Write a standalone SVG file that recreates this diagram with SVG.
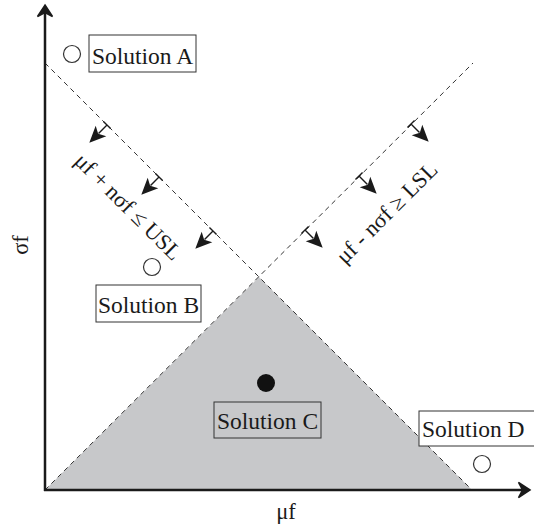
<svg xmlns="http://www.w3.org/2000/svg" xmlns:xlink="http://www.w3.org/1999/xlink" width="534" height="524" viewBox="0 0 534 524">
<style>
text{font-family:"Liberation Serif","Times New Roman",serif;fill:#1a1a1a}
.lbl{font-size:23.5px}
.eq{font-size:22.5px}
.box{fill:#fff;stroke:#333;stroke-width:1}
.boxc{fill:none;stroke:#333;stroke-width:1}
.dash{stroke:#333;stroke-width:1;stroke-dasharray:5 4;fill:none}
.axis{stroke:#1a1a1a;stroke-width:2.5;fill:none}
.open{fill:#fff;stroke:#333;stroke-width:1.2}
</style>
<defs>
<g id="arr">
<path d="M0,-5 L0,5 M0,0 L12,0" stroke="#1a1a1a" stroke-width="1.4" fill="none"/>
<path d="M25,0 L8.5,-7.5 L12.5,0 L8.5,7.5 Z" fill="#1a1a1a"/>
</g>
</defs>
<g id="feasible-region">
<polygon points="45,490 259,277 472,490" fill="#c7c8ca"/>
</g>
<g id="connectors">
<line class="dash" x1="45" y1="63" x2="472" y2="490"/>
<line class="dash" x1="45" y1="490" x2="473" y2="63"/>
<line class="axis" x1="45" y1="491" x2="45" y2="9"/>
<path d="M45,5 L52.5,16.5 L45,12.5 L37.5,16.5 Z" fill="#1a1a1a" stroke="#1a1a1a" stroke-width="1.5" stroke-linejoin="miter"/>
<line class="axis" x1="44" y1="490" x2="526" y2="490"/>
<path d="M530,490 L518.5,482.5 L522.5,490 L518.5,497.5 Z" fill="#1a1a1a" stroke="#1a1a1a" stroke-width="1.5"/>
<use xlink:href="#arr" transform="translate(107,125) rotate(135)"/>
<use xlink:href="#arr" transform="translate(159,177) rotate(135)"/>
<use xlink:href="#arr" transform="translate(213,231) rotate(135)"/>
<use xlink:href="#arr" transform="translate(411,124) rotate(45)"/>
<use xlink:href="#arr" transform="translate(359,176) rotate(45)"/>
<use xlink:href="#arr" transform="translate(305,230) rotate(45)"/>
</g>
<g id="usl-label">
<text class="eq" text-anchor="middle" transform="translate(123,212) rotate(45)">μf + nσf ≤ USL</text>
</g>
<g id="lsl-label">
<text class="eq" text-anchor="middle" transform="translate(392,218) rotate(-45)">μf - nσf ≥ LSL</text>
</g>
<g id="axis-x-label">
<text class="eq" x="286" y="519" text-anchor="middle">μf</text>
</g>
<g id="axis-y-label">
<text class="eq" text-anchor="middle" transform="translate(28,245) rotate(-90)">σf</text>
</g>
<g id="solution-a">
<circle class="open" cx="72" cy="54" r="8.5"/>
<rect class="box" x="89" y="35" width="107" height="37"/>
<text class="lbl" x="142.5" y="64" text-anchor="middle">Solution A</text>
</g>
<g id="solution-b">
<circle class="open" cx="152" cy="267" r="8.5"/>
<rect class="box" x="96" y="285" width="105" height="37"/>
<text class="lbl" x="148.5" y="313" text-anchor="middle">Solution B</text>
</g>
<g id="solution-c">
<circle cx="266" cy="383" r="9" fill="#111"/>
<rect class="boxc" x="214" y="402" width="107" height="36"/>
<text class="lbl" x="267.5" y="429" text-anchor="middle">Solution C</text>
</g>
<g id="solution-d">
<circle class="open" cx="482" cy="464" r="8.5"/>
<rect class="box" x="419" y="411" width="125" height="35"/>
<text class="lbl" x="422" y="437">Solution D</text>
</g>
</svg>
